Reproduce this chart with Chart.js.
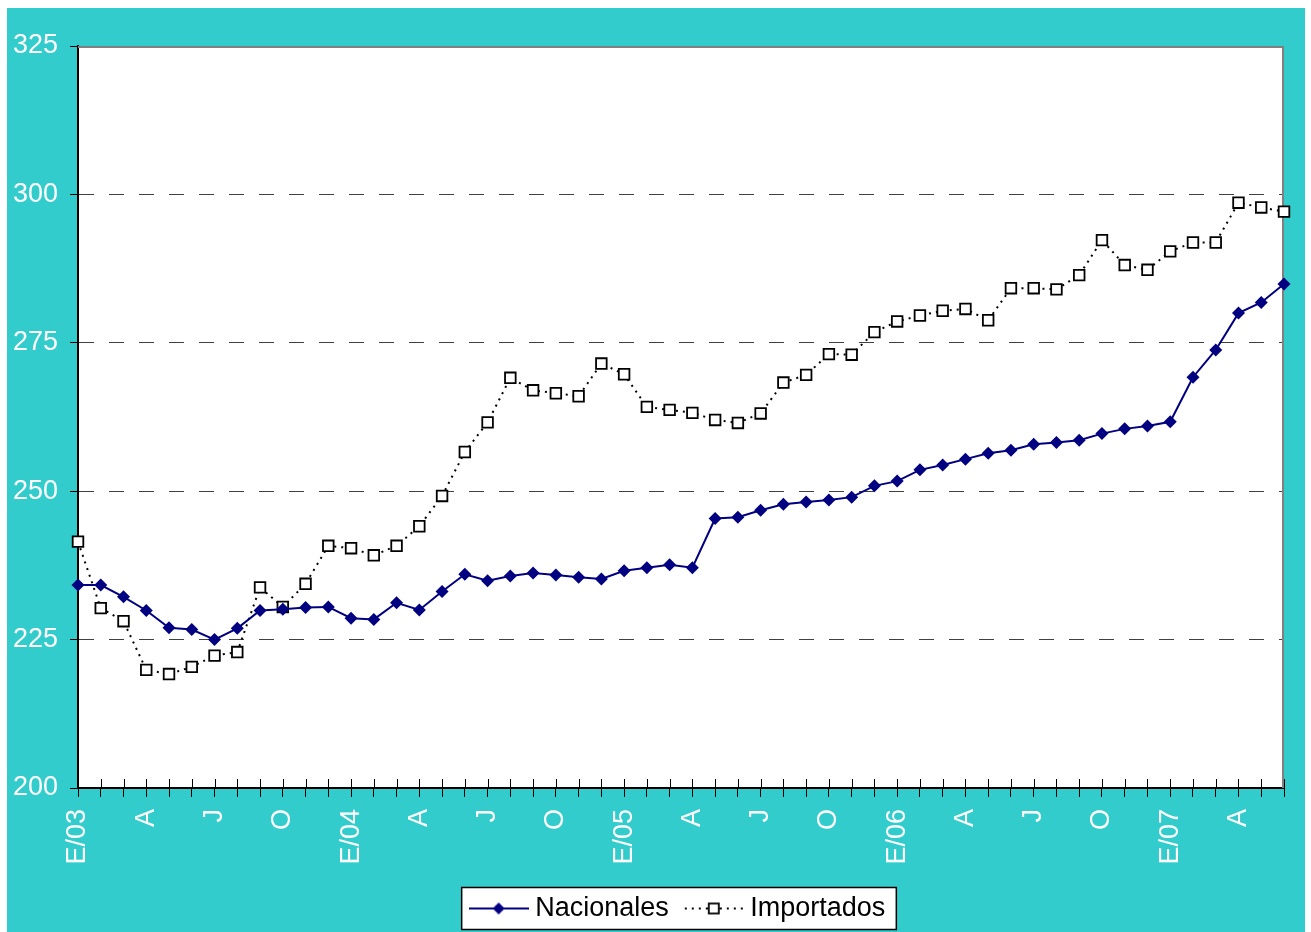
<!DOCTYPE html>
<html>
<head>
<meta charset="utf-8">
<title>Precios Nacionales / Importados</title>
<script src="https://cdn.jsdelivr.net/npm/chart.js@4/dist/chart.umd.min.js"></script>
<style>
  html, body { margin: 0; padding: 0; background: #fff; }
  canvas { display: block; }
</style>
</head>
<body>
<canvas id="grafico" width="1311" height="932" style="width:1311px;height:932px"></canvas>
<script>
// Meses de enero 2003 a junio 2007
const anios = ['03', '04', '05', '06', '07'];
const letrasMes = ['E', 'F', 'M', 'A', 'M', 'J', 'J', 'A', 'S', 'O', 'N', 'D'];

// Rótulos del eje X (solo cada tres meses)
const etiquetas = [
  'E/03', '', '', 'A', '', '', 'J', '', '', 'O', '', '',
  'E/04', '', '', 'A', '', '', 'J', '', '', 'O', '', '',
  'E/05', '', '', 'A', '', '', 'J', '', '', 'O', '', '',
  'E/06', '', '', 'A', '', '', 'J', '', '', 'O', '', '',
  'E/07', '', '', 'A', '', ''
];

const nacionales = [
  234.2, 234.2, 232.2, 229.9, 227.0, 226.7, 225.0, 226.9, 229.9, 230.1, 230.4, 230.5,
  228.6, 228.4, 231.2, 230.0, 233.1, 236.0, 234.9, 235.7, 236.2, 235.9, 235.5, 235.2,
  236.6, 237.1, 237.6, 237.1, 245.4, 245.6, 246.8, 247.8, 248.2, 248.5, 249.0, 250.9,
  251.7, 253.6, 254.4, 255.4, 256.4, 256.9, 257.9, 258.2, 258.6, 259.7, 260.5, 261.0,
  261.7, 269.2, 273.8, 280.0, 281.8, 284.9
];

const importados = [
  241.5, 230.3, 228.1, 219.9, 219.2, 220.4, 222.3, 222.9, 233.8, 230.5, 234.4, 240.8,
  240.4, 239.2, 240.8, 244.1, 249.2, 256.6, 261.6, 269.1, 267.0, 266.5, 266.0, 271.5,
  269.7, 264.2, 263.7, 263.2, 262.0, 261.5, 263.1, 268.3, 269.6, 273.1, 273.0, 276.8,
  278.6, 279.6, 280.4, 280.7, 278.8, 284.2, 284.2, 284.0, 286.4, 292.3, 288.1, 287.3,
  290.4, 291.9, 291.9, 298.6, 297.8, 297.1
];

const meses = [];
anios.forEach(a => letrasMes.forEach(m => meses.push(m + '/' + a)));
meses.length = nacionales.length;

const FUENTE = "'Liberation Sans', Arial, sans-serif";
const TURQUESA = '#33CCCC';
const AZUL = '#000080';

// Muestras de la leyenda: trazo con su marcador en el centro
function muestra(dibujar) {
  const c = document.createElement('canvas');
  c.width = 60;
  c.height = 16;
  dibujar(c.getContext('2d'));
  return c;
}

const muestraNac = muestra(g => {
  g.strokeStyle = AZUL;
  g.lineWidth = 2;
  g.beginPath(); g.moveTo(0, 8); g.lineTo(60, 8); g.stroke();
  g.fillStyle = AZUL;
  g.beginPath(); g.moveTo(30, 2); g.lineTo(36, 8); g.lineTo(30, 14); g.lineTo(24, 8); g.closePath(); g.fill();
});

const muestraImp = muestra(g => {
  g.strokeStyle = '#000';
  g.lineWidth = 2;
  g.setLineDash([2, 5]);
  g.beginPath(); g.moveTo(1, 8); g.lineTo(60, 8); g.stroke();
  g.setLineDash([]);
  g.fillStyle = '#fff';
  g.fillRect(25, 3, 10, 10);
  g.lineWidth = 1.8;
  g.strokeRect(25, 3, 10, 10);
});

// Fondo turquesa, área de trazado blanca, marco y recuadro de leyenda
const fondo = {
  id: 'fondo',
  afterLayout(chart) {
    // la leyenda va centrada bajo el área de trazado
    chart.legend.left += 70;
  },
  beforeDraw(chart) {
    const { ctx, chartArea: a, width, height } = chart;
    ctx.save();
    ctx.fillStyle = '#fff';
    ctx.fillRect(0, 0, width, height);
    ctx.fillStyle = TURQUESA;
    ctx.fillRect(7, 8, width - 13, height - 8);
    ctx.fillStyle = '#fff';
    ctx.fillRect(a.left, a.top, a.right - a.left, a.bottom - a.top);

    const cajas = chart.legend.legendHitBoxes;
    if (cajas && cajas.length) {
      const ult = cajas[cajas.length - 1];
      const cy = cajas[0].top + cajas[0].height / 2;
      const x1 = cajas[0].left - 14;
      const x2 = ult.left + ult.width + 11;
      ctx.fillStyle = '#fff';
      ctx.fillRect(x1, cy - 21, x2 - x1, 42);
      ctx.strokeStyle = '#000';
      ctx.lineWidth = 1.5;
      ctx.strokeRect(x1, cy - 21, x2 - x1, 42);
    }
    ctx.restore();
  },
  beforeDatasetsDraw(chart) {
    const { ctx, chartArea: a } = chart;
    const x = chart.scales.x;
    ctx.save();
    // marco gris superior y derecho
    ctx.strokeStyle = '#808080';
    ctx.lineWidth = 2;
    ctx.beginPath();
    ctx.moveTo(a.left, a.top + 1);
    ctx.lineTo(a.right - 1, a.top + 1);
    ctx.lineTo(a.right - 1, a.bottom);
    ctx.stroke();
    // parte interior de las marcas del eje X
    ctx.strokeStyle = '#000';
    ctx.lineWidth = 1;
    for (let i = 0; i < x.ticks.length; i++) {
      const px = Math.round(x.getPixelForTick(i)) + 0.5;
      ctx.beginPath();
      ctx.moveTo(px, a.bottom - 9);
      ctx.lineTo(px, a.bottom);
      ctx.stroke();
    }
    ctx.restore();
  }
};

Chart.defaults.font.family = FUENTE;

new Chart(document.getElementById('grafico'), {
  type: 'line',
  data: {
    labels: meses,
    datasets: [
      {
        label: 'Nacionales',
        data: nacionales,
        borderColor: AZUL,
        backgroundColor: AZUL,
        borderWidth: 2,
        pointStyle: 'rectRot',
        pointRadius: 6.5,
        pointBorderWidth: 0,
        pointBackgroundColor: AZUL,
        tension: 0,
        clip: false
      },
      {
        label: 'Importados',
        data: importados,
        borderColor: '#000',
        backgroundColor: '#fff',
        borderWidth: 2,
        borderDash: [2, 5],
        pointStyle: 'rect',
        pointRadius: 7.5,
        pointBorderWidth: 1.8,
        pointBorderColor: '#000',
        pointBackgroundColor: '#fff',
        tension: 0,
        clip: false
      }
    ]
  },
  options: {
    responsive: false,
    animation: false,
    layout: { padding: { left: 7, right: 27, top: 46, bottom: 0 } },
    plugins: {
      tooltip: { enabled: false },
      legend: {
        position: 'bottom',
        labels: {
          usePointStyle: true,
          pointStyleWidth: 46,
          padding: 22,
          color: '#000',
          font: { size: 27, family: FUENTE },
          generateLabels(chart) {
            return chart.data.datasets.map((ds, i) => ({
              text: ds.label,
              pointStyle: i === 0 ? muestraNac : muestraImp,
              fillStyle: 'transparent',
              strokeStyle: 'transparent',
              lineWidth: 0,
              fontColor: '#000',
              datasetIndex: i,
              hidden: false
            }));
          }
        }
      }
    },
    scales: {
      x: {
        type: 'category',
        offset: false,
        afterFit(scale) {
          scale.height = 85;
          scale.paddingLeft = 0;
          scale.paddingRight = 0;
        },
        border: { color: '#000', width: 2 },
        grid: {
          drawOnChartArea: false,
          tickLength: 9,
          tickColor: '#000',
          tickWidth: 1
        },
        ticks: {
          autoSkip: false,
          maxRotation: 90,
          minRotation: 90,
          padding: 12,
          color: '#fff',
          font: { size: 27, family: FUENTE },
          callback: (v, i) => etiquetas[i]
        }
      },
      y: {
        min: 200,
        max: 325,
        afterFit(scale) {
          scale.width = 71;
          scale.paddingTop = 0;
          scale.paddingBottom = 0;
        },
        border: { color: '#000', width: 2, dash: [15, 15] },
        grid: {
          color: ctx => (ctx.tick && ctx.tick.value > 200 && ctx.tick.value < 325) ? '#404040' : 'rgba(0,0,0,0)',
          lineWidth: 1,
          tickLength: 8,
          tickColor: '#000',
          tickWidth: 1,
          tickBorderDash: [0, 0]
        },
        ticks: {
          stepSize: 25,
          padding: 12,
          color: '#fff',
          font: { size: 27, family: FUENTE }
        }
      }
    }
  },
  plugins: [fondo]
});
</script>
</body>
</html>
